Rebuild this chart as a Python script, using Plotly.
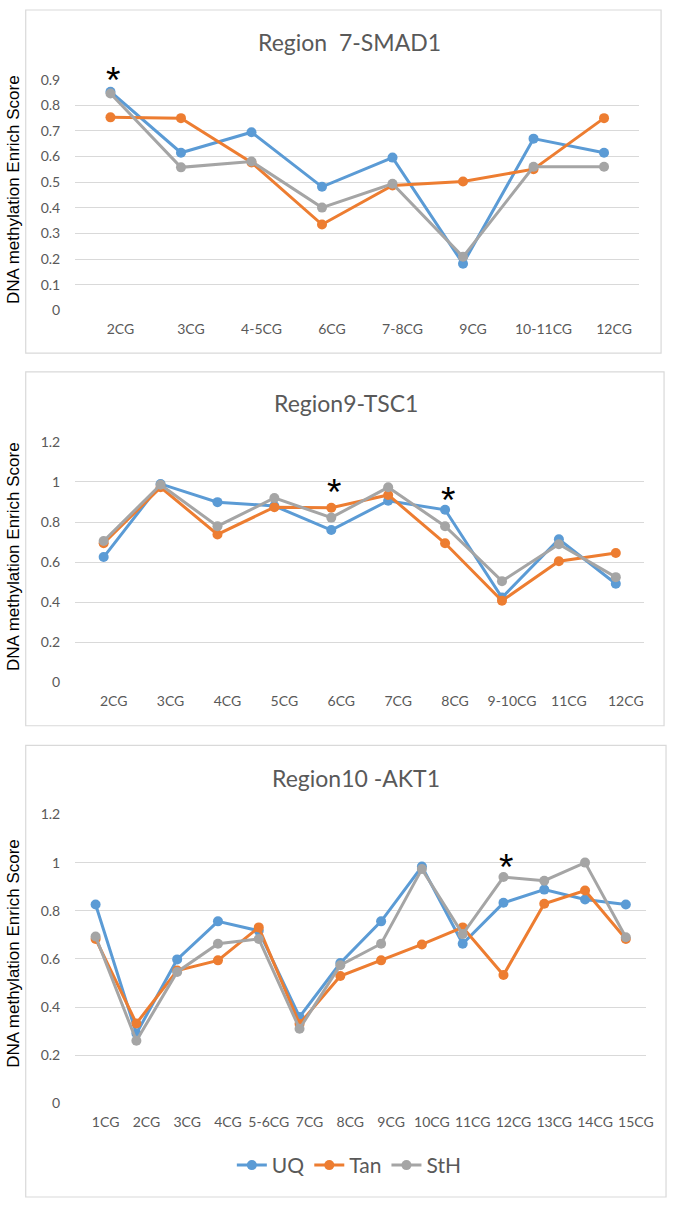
import plotly.graph_objects as go

W, H = 675, 1206

series_names = ["UQ", "Tan", "StH"]
series_colors = ["#5B9BD5", "#ED7D31", "#A5A5A5"]

# Panel 1: Region 7-SMAD1
p1_title = "Region  7-SMAD1"
p1_cats = ["2CG", "3CG", "4-5CG", "6CG", "7-8CG", "9CG", "10-11CG", "12CG"]
p1_uq = [0.853, 0.615, 0.695, 0.482, 0.596, 0.182, 0.670, 0.615]
p1_tan = [0.753, 0.750, 0.577, 0.335, 0.487, 0.503, 0.551, 0.750]
p1_sth = [0.846, 0.558, 0.581, 0.401, 0.494, 0.209, 0.560, 0.560]
p1_yticks = [0, 0.1, 0.2, 0.3, 0.4, 0.5, 0.6, 0.7, 0.8, 0.9]
p1_star_cats = ["2CG"]
p1_star_y = [0.93]

# Panel 2: Region9-TSC1
p2_title = "Region9-TSC1"
p2_cats = ["2CG", "3CG", "4CG", "5CG", "6CG", "7CG", "8CG", "9-10CG", "11CG", "12CG"]
p2_uq = [0.625, 0.990, 0.899, 0.880, 0.760, 0.906, 0.861, 0.423, 0.714, 0.492]
p2_tan = [0.694, 0.973, 0.738, 0.874, 0.871, 0.935, 0.694, 0.407, 0.604, 0.645]
p2_sth = [0.705, 0.986, 0.779, 0.920, 0.822, 0.973, 0.779, 0.505, 0.689, 0.525]
p2_yticks = [0, 0.2, 0.4, 0.6, 0.8, 1, 1.2]
p2_star_cats = ["6CG", "8CG"]
p2_star_y = [0.99, 0.953]

# Panel 3: Region10 -AKT1
p3_title = "Region10 -AKT1"
p3_cats = ["1CG", "2CG", "3CG", "4CG", "5-6CG", "7CG", "8CG", "9CG", "10CG",
           "11CG", "12CG", "13CG", "14CG", "15CG"]
p3_uq = [0.826, 0.290, 0.598, 0.756, 0.717, 0.359, 0.583, 0.756, 0.984,
         0.663, 0.833, 0.888, 0.847, 0.826]
p3_tan = [0.683, 0.332, 0.552, 0.594, 0.731, 0.330, 0.529, 0.594, 0.660,
          0.731, 0.533, 0.829, 0.884, 0.683]
p3_sth = [0.693, 0.260, 0.546, 0.663, 0.683, 0.310, 0.574, 0.663, 0.973,
          0.703, 0.940, 0.925, 1.000, 0.690]
p3_yticks = [0, 0.2, 0.4, 0.6, 0.8, 1, 1.2]
p3_star_cats = ["12CG"]
p3_star_y = [1.016]

y_title = "DNA methylation Enrich Score"


def px_x(v):
    return v / W


def px_y(v):
    return 1 - v / H


panels = [
    dict(title=p1_title, cats=p1_cats, data=[p1_uq, p1_tan, p1_sth], yticks=p1_yticks,
         stars=(p1_star_cats, p1_star_y), plot=(76, 646, 71.7, 305.7),
         box=(26, 668, 1, 349), title_xy=(353, 33)),
    dict(title=p2_title, cats=p2_cats, data=[p2_uq, p2_tan, p2_sth], yticks=p2_yticks,
         stars=(p2_star_cats, p2_star_y), plot=(76, 651, 439, 683),
         box=(26, 671, 368, 727), title_xy=(350, 400)),
    dict(title=p3_title, cats=p3_cats, data=[p3_uq, p3_tan, p3_sth], yticks=p3_yticks,
         stars=(p3_star_cats, p3_star_y), plot=(76, 653, 817, 1110),
         box=(26, 673, 747, 1205), title_xy=(360, 780)),
]

fig = go.Figure()
shapes = []
annotations = []
tick_font = dict(family="Lato, Open Sans, sans-serif", size=14, color="#595959")

for i, p in enumerate(panels):
    n = i + 1
    xa = "x" if n == 1 else f"x{n}"
    ya = "y" if n == 1 else f"y{n}"
    for s in range(3):
        fig.add_trace(go.Scatter(
            x=p["cats"], y=p["data"][s], name=series_names[s],
            mode="lines+markers", xaxis=xa, yaxis=ya,
            line=dict(color=series_colors[s], width=3),
            marker=dict(color=series_colors[s], size=10),
            showlegend=(n == 3), cliponaxis=False,
        ))
    x0, x1, yt, yb = p["plot"]
    nc = len(p["cats"])
    ymax = p["yticks"][-1]
    fig.layout[f"xaxis{'' if n == 1 else n}"] = dict(
        domain=[px_x(x0), px_x(x1)], anchor=ya, type="category",
        range=[-0.5, nc - 0.5], showgrid=False, zeroline=False, showline=False,
        ticks="", tickfont=tick_font, ticklabelshift=10, ticklabelstandoff=9,
        tickangle=0, fixedrange=True,
    )
    fig.layout[f"yaxis{'' if n == 1 else n}"] = dict(
        domain=[px_y(yb), px_y(yt)], anchor=xa,
        range=[0, ymax], tickmode="array", tickvals=p["yticks"],
        ticktext=[f"{v:g}" for v in p["yticks"]],
        showgrid=True, gridcolor="#D9D9D9", gridwidth=1, zeroline=False,
        showline=False, ticks="", tickfont=tick_font, ticklabelstandoff=14,
        fixedrange=True,
    )
    bx0, bx1, by0, by1 = p["box"]
    shapes.append(dict(type="rect", xref="paper", yref="paper",
                       x0=px_x(bx0), x1=px_x(bx1), y0=px_y(by1), y1=px_y(by0),
                       line=dict(color="#D9D9D9", width=1.2), fillcolor="rgba(0,0,0,0)",
                       layer="below"))
    tx, ty = p["title_xy"]
    annotations.append(dict(text=p["title"], xref="paper", yref="paper",
                            x=px_x(tx), y=px_y(ty), xanchor="center", yanchor="middle",
                            showarrow=False,
                            font=dict(family="Lato, Open Sans, sans-serif", size=23,
                                      color="#595959")))
    annotations.append(dict(text=y_title, xref="paper", yref="paper",
                            x=px_x(13), y=px_y((yt + yb) / 2 - 6), xanchor="center",
                            yanchor="middle", textangle=-90, showarrow=False,
                            font=dict(family="Liberation Sans, Arial, sans-serif",
                                      size=17, color="#000000")))
    # significance stars: category on the x axis, height as a fraction of the y domain
    for c, yv in zip(*p["stars"]):
        annotations.append(dict(text="*", x=c, y=yv / ymax, xref=xa, yref=f"{ya} domain",
                                xanchor="center", yanchor="middle", xshift=3, yshift=-9,
                                showarrow=False,
                                font=dict(family="Liberation Sans, Arial, sans-serif",
                                          size=37, color="#000000")))

fig.update_layout(
    width=W, height=H, margin=dict(l=0, r=0, t=0, b=0),
    paper_bgcolor="white", plot_bgcolor="white",
    shapes=shapes, annotations=annotations,
    legend=dict(orientation="h", x=px_x(353), y=px_y(1173), xanchor="center",
                yanchor="middle", font=dict(family="Lato, Open Sans, sans-serif",
                                            size=21, color="#595959"),
                itemwidth=30, tracegroupgap=0),
    showlegend=True,
)

# pin the figure to the page's top-left corner so it fills the window exactly
pin_js = (
    "document.documentElement.style.margin='0';"
    "document.body.style.margin='0';document.body.style.padding='0';"
    "document.body.style.overflow='hidden';"
    "var gd=document.getElementById('{plot_id}');"
    "gd.style.position='absolute';gd.style.left='0px';gd.style.top='0px';"
)

fig.write_html("out.html", post_script=pin_js, config={"displayModeBar": False})
